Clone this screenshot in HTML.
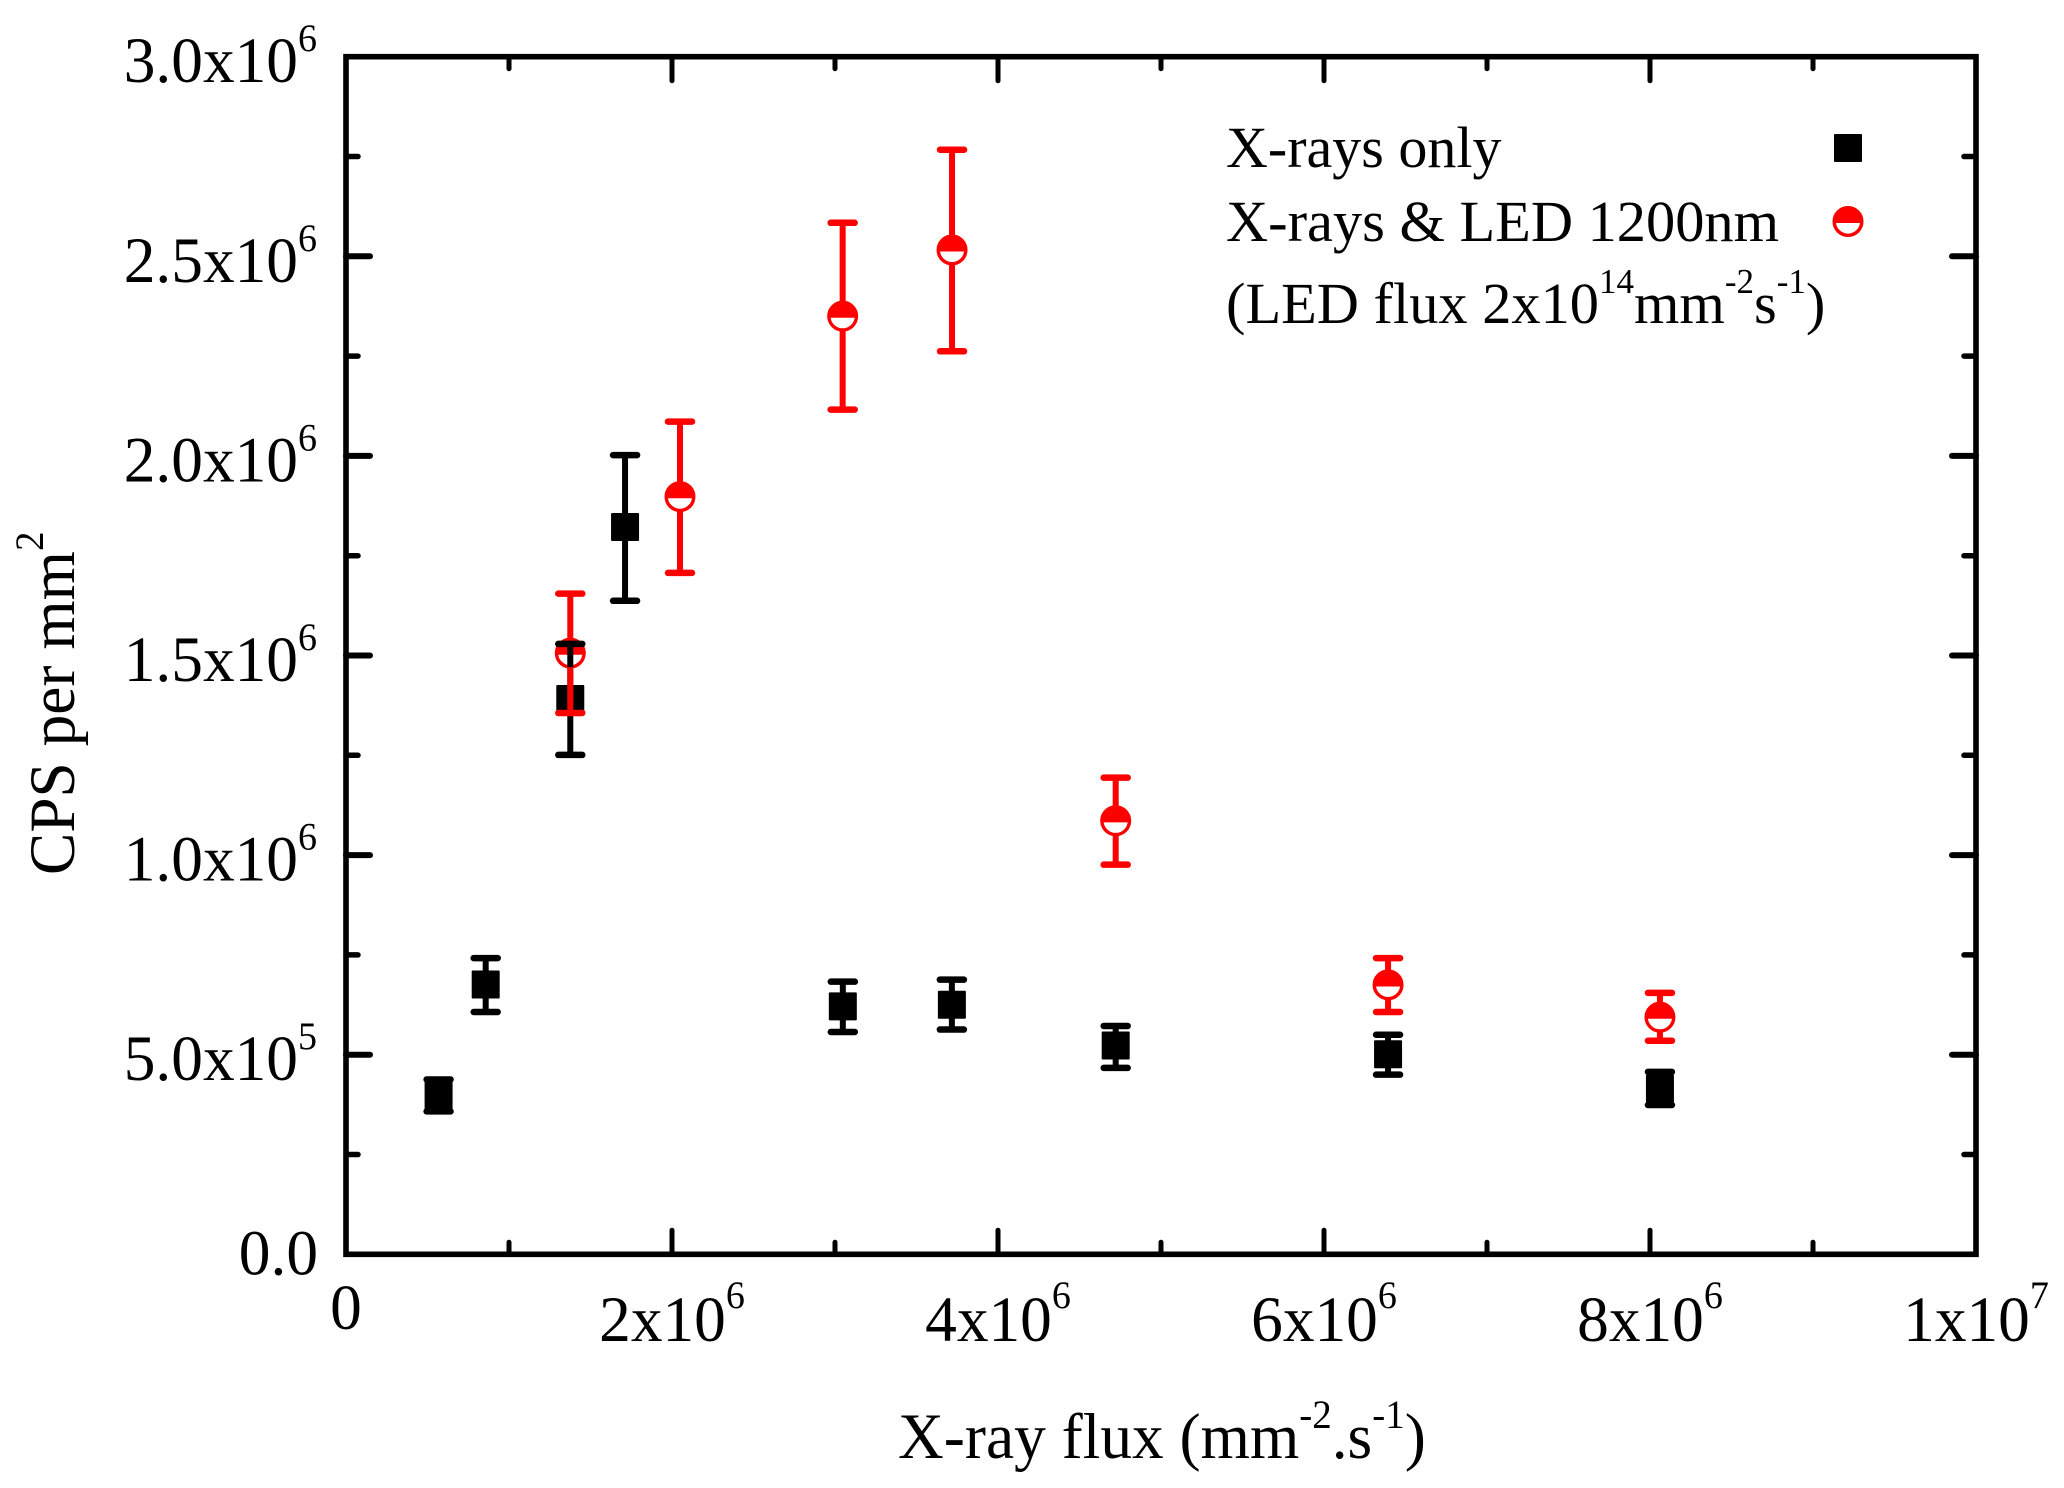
<!DOCTYPE html>
<html lang="en">
<head>
<meta charset="utf-8">
<title>CPS per mm2 vs X-ray flux</title>
<style>
  html, body { margin: 0; padding: 0; background: #fff; }
  svg { display: block; }
  text { font-family: "Liberation Serif", "Times New Roman", serif; fill: #000; }
</style>
</head>
<body>
<svg id="chart" xmlns="http://www.w3.org/2000/svg" width="2064" height="1488" viewBox="0 0 2064 1488">
  <rect x="0" y="0" width="2064" height="1488" fill="#fff"/>
  <g id="ticks"></g>
  <rect x="346" y="56.7" width="1630" height="1197.6" fill="none" stroke="#000" stroke-width="5.6"/>
  <g id="tick-labels"></g>
  <g id="marks"></g>

  <text transform="translate(898 1458) scale(0.975 1)" x="0" y="0" font-size="65">X-ray flux (mm<tspan dy="-30" font-size="40">-2</tspan><tspan dy="30">.s</tspan><tspan dy="-30" font-size="40">-1</tspan><tspan dy="30">)</tspan></text>
  <text transform="translate(74 875) rotate(-90) scale(0.975 1)" x="0" y="0" font-size="65">CPS per mm<tspan dy="-31" font-size="40">2</tspan></text>

  <g>
    <text x="1226" y="167" font-size="58">X-rays only</text>
    <text x="1226" y="241" font-size="58.4">X-rays &amp; LED 1200nm</text>
    <text x="1226" y="323" font-size="58.4">(LED flux 2x10<tspan dy="-30" font-size="35">14</tspan><tspan dy="30">mm</tspan><tspan dy="-30" font-size="35">-2</tspan><tspan dy="30">s</tspan><tspan dy="-30" font-size="35">-1</tspan><tspan dy="30">)</tspan></text>
    <rect x="1834" y="134" width="28" height="28" rx="1" fill="#000"/>
    <g>
      <circle cx="1848" cy="221.5" r="13.8" fill="#fff" stroke="#f00" stroke-width="3.4"/>
      <path d="M1834 223 A14 14 0 0 1 1862 223 Z" fill="#f00"/>
    </g>
  </g>
</svg>
<script>
// Series values
const blackX  = [568000, 857000, 1376000, 1712000, 3048000, 3717000, 4722000, 6393000, 8061000];
const blackY  = [398000, 676000, 1391000, 1822000, 621000, 625000, 523000, 501000, 415000];
const blackHi = [438000, 742000, 1529000, 2002000, 683000, 688000, 572000, 550000, 457000];
const blackLo = [358000, 607000, 1251000, 1637000, 557000, 563000, 467000, 450000, 374000];

const redX  = [1376000, 2049000, 3047000, 3718000, 4722000, 6393000, 8061000];
const redY  = [1506000, 1898000, 2350000, 2516000, 1086000, 675000, 594000];
const redHi = [1655000, 2086000, 2584000, 2767000, 1194000, 742000, 655000];
const redLo = [1356000, 1707000, 2116000, 2262000, 976000, 607000, 535000];

// Axis ticks and labels
const xMajorTicks = [0, 2000000, 4000000, 6000000, 8000000, 10000000];
const xMinorTicks = [1000000, 3000000, 5000000, 7000000, 9000000];
const yMajorTicks = [0, 500000, 1000000, 1500000, 2000000, 2500000, 3000000];
const yMinorTicks = [250000, 750000, 1250000, 1750000, 2250000, 2750000];
const xTickLabels = ['0', '2x10', '4x10', '6x10', '8x10', '1x10'];
const xTickExps   = ['', '6', '6', '6', '6', '7'];
const yTickLabels = ['0.0', '5.0x10', '1.0x10', '1.5x10', '2.0x10', '2.5x10', '3.0x10'];
const yTickExps   = ['', '5', '6', '6', '6', '6', '6'];

const xMax = 10000000;
const yMax = 3000000;

function xS(v) { return 346 + (v / xMax) * 1630; }
function yS(v) { return 1254.3 - (v / yMax) * 1197.6; }

const SVG_NS = 'http://www.w3.org/2000/svg';
function make(tag, attrs, parent) {
  const e = document.createElementNS(SVG_NS, tag);
  for (const k in attrs) e.setAttribute(k, attrs[k]);
  parent.appendChild(e);
  return e;
}
function tickLine(parent, x1, y1, x2, y2, w) {
  const t = make('line', { x1: x1, y1: y1, x2: x2, y2: y2, stroke: '#000', 'stroke-width': w, 'stroke-linecap': 'round' }, parent);
  
  
  return t;
}

const ticksG = document.getElementById('ticks');
const labelsG = document.getElementById('tick-labels');
const marksG = document.getElementById('marks');

const MAJOR = 24, MINOR = 12;
const LABEL_SCALE = 0.975;
xMajorTicks.forEach(function (v) {
  if (v > 0 && v < xMax) {
    tickLine(ticksG, xS(v), 56.7, xS(v), 56.7 + MAJOR, 5);
    tickLine(ticksG, xS(v), 1254.3, xS(v), 1254.3 - MAJOR, 5);
  }
});
xMinorTicks.forEach(function (v) {
  tickLine(ticksG, xS(v), 56.7, xS(v), 56.7 + MINOR, 5);
  tickLine(ticksG, xS(v), 1254.3, xS(v), 1254.3 - MINOR, 5);
});
yMajorTicks.forEach(function (v) {
  if (v > 0 && v < yMax) {
    tickLine(ticksG, 346, yS(v), 346 + MAJOR, yS(v), 6);
    tickLine(ticksG, 1976, yS(v), 1976 - MAJOR, yS(v), 6);
  }
});
yMinorTicks.forEach(function (v) {
  tickLine(ticksG, 346, yS(v), 346 + MINOR, yS(v), 5.5);
  tickLine(ticksG, 1976, yS(v), 1976 - MINOR, yS(v), 5.5);
});

function addSup(textEl, exp, dy, size) {
  if (!exp) return;
  const s = make('tspan', { dy: dy, 'font-size': size }, textEl);
  s.textContent = exp;
}

xMajorTicks.forEach(function (v, i) {
  const hasExp = xTickExps[i] !== '';
  const ty = hasExp ? 1341 : 1329;
  const t = make('text', { x: 0, y: 0, transform: 'translate(' + xS(v) + ' ' + ty + ') scale(' + LABEL_SCALE + ' 1)', 'text-anchor': 'middle', 'font-size': 65 }, labelsG);
  
  
  t.textContent = xTickLabels[i];
  addSup(t, xTickExps[i], -33, 39);
});
yMajorTicks.forEach(function (v, i) {
  const hasExp = yTickExps[i] !== '';
  const tx = hasExp ? 317 : 318;
  const ty = yS(v) + (hasExp ? 25.5 : 20);
  const t = make('text', { x: 0, y: 0, transform: 'translate(' + tx + ' ' + ty + ') scale(' + LABEL_SCALE + ' 1)', 'text-anchor': 'end', 'font-size': 65 }, labelsG);
  
  
  t.textContent = yTickLabels[i];
  addSup(t, yTickExps[i], -31, 39);
});

function errLine(parent, x1, y1, x2, y2, color) {
  return make('line', { x1: x1, y1: y1, x2: x2, y2: y2, stroke: color, 'stroke-width': 6 }, parent);
}
function errCap(parent, x, y, color) {
  return make('line', { x1: x - 12, y1: y, x2: x + 12, y2: y, stroke: color, 'stroke-width': 6.5, 'stroke-linecap': 'round' }, parent);
}

// Layer order: black squares, red circles, black error bars, red error bars
blackX.forEach(function (v, i) {
  const m = make('rect', { x: xS(v) - 14, y: yS(blackY[i]) - 14, width: 28, height: 28, rx: 1, fill: '#000' }, marksG);
  
  
});
redX.forEach(function (v, i) {
  const cx = xS(v), cy = yS(redY[i]);
  const g = make('g', {}, marksG);
  
  
  make('circle', { cx: cx, cy: cy, r: 13.8, fill: '#fff', stroke: '#f00', 'stroke-width': 3.4 }, g);
  make('path', { d: 'M' + (cx - 14) + ' ' + (cy + 1.6) + ' A14 14 0 0 1 ' + (cx + 14) + ' ' + (cy + 1.6) + ' Z', fill: '#f00' }, g);
});
blackX.forEach(function (v, i) {
  const g = make('g', {}, marksG);
  
  
  errLine(g, xS(v), yS(blackHi[i]), xS(v), yS(blackLo[i]), '#000');
  errCap(g, xS(v), yS(blackHi[i]), '#000');
  errCap(g, xS(v), yS(blackLo[i]), '#000');
});
redX.forEach(function (v, i) {
  const x = xS(v), cy = yS(redY[i]);
  const g = make('g', {}, marksG);
  
  
  errLine(g, x, yS(redHi[i]), x, cy - 14, '#f00');
  errLine(g, x, cy + 14, x, yS(redLo[i]), '#f00');
  errCap(g, x, yS(redHi[i]), '#f00');
  errCap(g, x, yS(redLo[i]), '#f00');
});
</script>
</body>
</html>
